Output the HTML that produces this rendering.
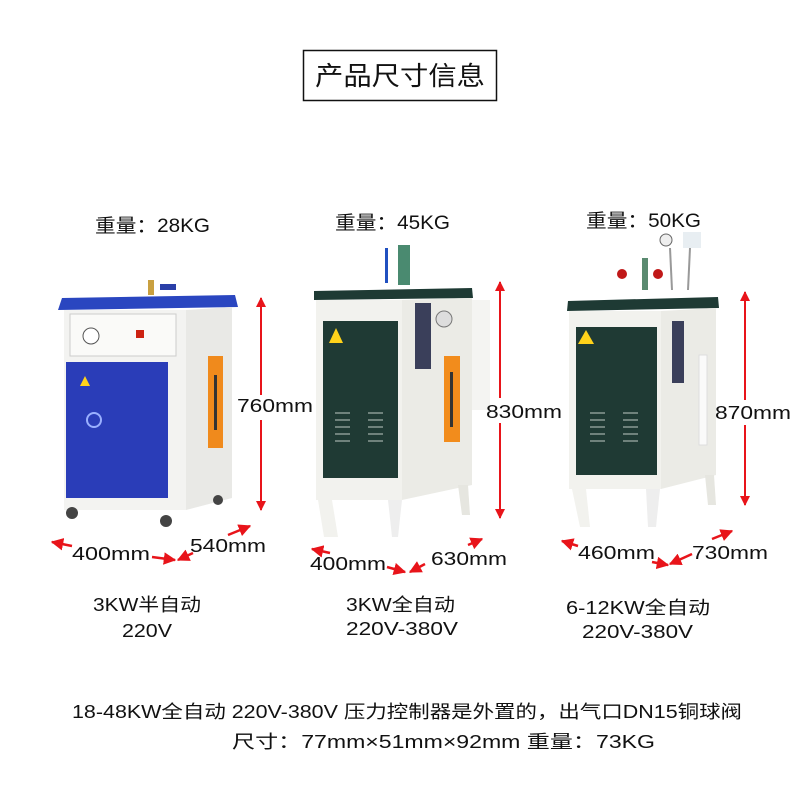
<!DOCTYPE html>
<html><head><meta charset="utf-8"><style>
html,body{margin:0;padding:0;background:#fff;}
svg{display:block;}
text{font-family:"Liberation Sans","Noto Sans CJK SC",sans-serif;fill:#111;}
</style></head><body>
<svg width="790" height="800" viewBox="0 0 790 800" xmlns="http://www.w3.org/2000/svg">
<defs>
<marker id="ah" viewBox="0 0 10 10" refX="9" refY="5" markerWidth="5" markerHeight="5" orient="auto-start-reverse"><path d="M0,0 L10,5 L0,10 z" fill="#e8141a"/></marker>
</defs>
<rect x="303.5" y="50.5" width="193" height="50" fill="none" stroke="#111" stroke-width="1.5"/>
<text x="400" y="85" font-size="26" text-anchor="middle" textLength="170" lengthAdjust="spacingAndGlyphs">产品尺寸信息</text>

<text x="95" y="232" font-size="19" textLength="115" lengthAdjust="spacingAndGlyphs">重量：28KG</text>
<text x="335" y="229" font-size="19" textLength="115" lengthAdjust="spacingAndGlyphs">重量：45KG</text>
<text x="586" y="227" font-size="19" textLength="115" lengthAdjust="spacingAndGlyphs">重量：50KG</text>

<!-- machine 1 -->
<rect x="148" y="280" width="6" height="15" fill="#c9a040"/><rect x="160" y="284" width="16" height="6" fill="#2a3fa8"/>
<polygon points="62,298 235,295 238,307 58,310" fill="#2a46c0"/>
<rect x="64" y="310" width="122" height="200" fill="#f3f3f1"/>
<polygon points="186,310 232,307 232,498 186,510" fill="#e9e9e6"/>
<rect x="70" y="314" width="106" height="42" fill="#fafaf8" stroke="#ccc"/>
<circle cx="91" cy="336" r="8" fill="#fff" stroke="#555"/>
<rect x="136" y="330" width="8" height="8" fill="#c21"/>
<rect x="66" y="362" width="102" height="136" fill="#2a3db8"/>
<polygon points="80,386 85,376 90,386" fill="#ffd21a"/>
<circle cx="94" cy="420" r="7" fill="none" stroke="#9ab0ff" stroke-width="2"/>
<rect x="208" y="356" width="15" height="92" fill="#f08a1c"/>
<rect x="214" y="375" width="3" height="55" fill="#333"/>
<circle cx="72" cy="513" r="6" fill="#444"/><circle cx="166" cy="521" r="6" fill="#444"/><circle cx="218" cy="500" r="5" fill="#444"/>
<line x1="261" y1="298" x2="261" y2="395" stroke="#e8141a" stroke-width="2" marker-start="url(#ah)"/>
<line x1="261" y1="420" x2="261" y2="510" stroke="#e8141a" stroke-width="2" marker-end="url(#ah)"/>
<text x="237" y="412" font-size="18" textLength="76" lengthAdjust="spacingAndGlyphs">760mm</text>

<!-- machine 2 -->
<rect x="385" y="248" width="3" height="35" fill="#2050c0"/><rect x="398" y="245" width="12" height="40" fill="#4a8a70"/>
<polygon points="314,291 472,288 473,298 314,300" fill="#1e3a34"/>
<rect x="316" y="300" width="86" height="200" fill="#f2f2ee"/>
<polygon points="402,300 472,298 472,485 402,500" fill="#ebebe6"/>
<rect x="472" y="300" width="18" height="110" fill="#f4f4f2"/>
<rect x="323" y="321" width="75" height="157" fill="#1f3a34"/>
<polygon points="329,343 336,328 343,343" fill="#ffd21a"/>
<g stroke="#8a9a94" stroke-width="1.5"><line x1="335" y1="413" x2="350" y2="413"/><line x1="335" y1="420" x2="350" y2="420"/><line x1="335" y1="427" x2="350" y2="427"/><line x1="335" y1="434" x2="350" y2="434"/><line x1="335" y1="441" x2="350" y2="441"/><line x1="368" y1="413" x2="383" y2="413"/><line x1="368" y1="420" x2="383" y2="420"/><line x1="368" y1="427" x2="383" y2="427"/><line x1="368" y1="434" x2="383" y2="434"/><line x1="368" y1="441" x2="383" y2="441"/></g>
<rect x="415" y="303" width="16" height="66" fill="#3a3f5a"/>
<circle cx="444" cy="319" r="8" fill="#ddd" stroke="#777"/>
<rect x="444" y="356" width="16" height="86" fill="#f28c1c"/>
<rect x="450" y="372" width="3" height="55" fill="#333"/>
<polygon points="318,500 332,500 338,537 324,537" fill="#f2f2ee"/><polygon points="388,500 402,500 398,537 392,537" fill="#eee"/><polygon points="458,485 468,485 470,515 462,515" fill="#e6e6e0"/>
<line x1="500" y1="282" x2="500" y2="398" stroke="#e8141a" stroke-width="2" marker-start="url(#ah)"/>
<line x1="500" y1="423" x2="500" y2="518" stroke="#e8141a" stroke-width="2" marker-end="url(#ah)"/>
<text x="486" y="418" font-size="18" textLength="76" lengthAdjust="spacingAndGlyphs">830mm</text>

<!-- machine 3 -->
<circle cx="622" cy="274" r="5" fill="#c01818"/><circle cx="658" cy="274" r="5" fill="#c01818"/><rect x="642" y="258" width="6" height="32" fill="#5a8a70"/>
<circle cx="666" cy="240" r="6" fill="#eee" stroke="#666"/><rect x="683" y="232" width="18" height="16" fill="#e8eef2"/>
<line x1="670" y1="248" x2="672" y2="290" stroke="#999" stroke-width="2"/><line x1="690" y1="248" x2="688" y2="290" stroke="#999" stroke-width="2"/>
<polygon points="568,301 718,297 719,308 567,311" fill="#1e3a34"/>
<rect x="569" y="311" width="92" height="178" fill="#f2f2ee"/>
<polygon points="661,311 716,308 716,475 661,489" fill="#ebebe6"/>
<rect x="576" y="327" width="81" height="148" fill="#1f3a34"/>
<polygon points="578,344 586,330 594,344" fill="#ffd21a"/>
<g stroke="#8a9a94" stroke-width="1.5"><line x1="590" y1="413" x2="605" y2="413"/><line x1="590" y1="420" x2="605" y2="420"/><line x1="590" y1="427" x2="605" y2="427"/><line x1="590" y1="434" x2="605" y2="434"/><line x1="590" y1="441" x2="605" y2="441"/><line x1="623" y1="413" x2="638" y2="413"/><line x1="623" y1="420" x2="638" y2="420"/><line x1="623" y1="427" x2="638" y2="427"/><line x1="623" y1="434" x2="638" y2="434"/><line x1="623" y1="441" x2="638" y2="441"/></g>
<rect x="672" y="321" width="12" height="62" fill="#3a3f5a"/>
<rect x="699" y="355" width="8" height="90" fill="#fafafa" stroke="#ddd"/>
<polygon points="572,489 586,489 590,527 580,527" fill="#f2f2ee"/><polygon points="646,489 660,489 656,527 648,527" fill="#eee"/><polygon points="705,475 714,475 716,505 708,505" fill="#e6e6e0"/>
<line x1="745" y1="292" x2="745" y2="400" stroke="#e8141a" stroke-width="2" marker-start="url(#ah)"/>
<line x1="745" y1="425" x2="745" y2="505" stroke="#e8141a" stroke-width="2" marker-end="url(#ah)"/>
<text x="715" y="419" font-size="18" textLength="76" lengthAdjust="spacingAndGlyphs">870mm</text>

<g stroke="#e8141a" stroke-width="2.5" fill="none">
<line x1="52" y1="542" x2="72" y2="546" marker-start="url(#ah)"/>
<line x1="152" y1="557" x2="175" y2="560" marker-end="url(#ah)"/>
<line x1="178" y1="560" x2="193" y2="553" marker-start="url(#ah)"/>
<line x1="228" y1="535" x2="250" y2="526" marker-end="url(#ah)"/>
<line x1="312" y1="549" x2="330" y2="553" marker-start="url(#ah)"/>
<line x1="387" y1="567" x2="405" y2="572" marker-end="url(#ah)"/>
<line x1="410" y1="572" x2="425" y2="564" marker-start="url(#ah)"/>
<line x1="468" y1="545" x2="482" y2="539" marker-end="url(#ah)"/>
<line x1="562" y1="541" x2="578" y2="546" marker-start="url(#ah)"/>
<line x1="652" y1="562" x2="668" y2="565" marker-end="url(#ah)"/>
<line x1="670" y1="564" x2="692" y2="554" marker-start="url(#ah)"/>
<line x1="712" y1="539" x2="732" y2="531" marker-end="url(#ah)"/>
</g>
<text x="72" y="560" font-size="18" textLength="78" lengthAdjust="spacingAndGlyphs">400mm</text>
<text x="190" y="552" font-size="18" textLength="76" lengthAdjust="spacingAndGlyphs">540mm</text>
<text x="310" y="570" font-size="18" textLength="76" lengthAdjust="spacingAndGlyphs">400mm</text>
<text x="431" y="565" font-size="18" textLength="76" lengthAdjust="spacingAndGlyphs">630mm</text>
<text x="578" y="559" font-size="18" textLength="77" lengthAdjust="spacingAndGlyphs">460mm</text>
<text x="692" y="559" font-size="18" textLength="76" lengthAdjust="spacingAndGlyphs">730mm</text>

<text x="93" y="611" font-size="18" textLength="108" lengthAdjust="spacingAndGlyphs">3KW半自动</text>
<text x="122" y="637" font-size="18" textLength="50" lengthAdjust="spacingAndGlyphs">220V</text>
<text x="346" y="611" font-size="18" textLength="109" lengthAdjust="spacingAndGlyphs">3KW全自动</text>
<text x="346" y="635" font-size="18" textLength="112" lengthAdjust="spacingAndGlyphs">220V-380V</text>
<text x="566" y="614" font-size="18" textLength="144" lengthAdjust="spacingAndGlyphs">6-12KW全自动</text>
<text x="582" y="638" font-size="18" textLength="111" lengthAdjust="spacingAndGlyphs">220V-380V</text>

<text x="72" y="718" font-size="18" textLength="670" lengthAdjust="spacingAndGlyphs">18-48KW全自动 220V-380V 压力控制器是外置的，出气口DN15铜球阀</text>
<text x="232" y="748" font-size="18" textLength="423" lengthAdjust="spacingAndGlyphs">尺寸：77mm×51mm×92mm   重量：73KG</text>
</svg>
</body></html>
